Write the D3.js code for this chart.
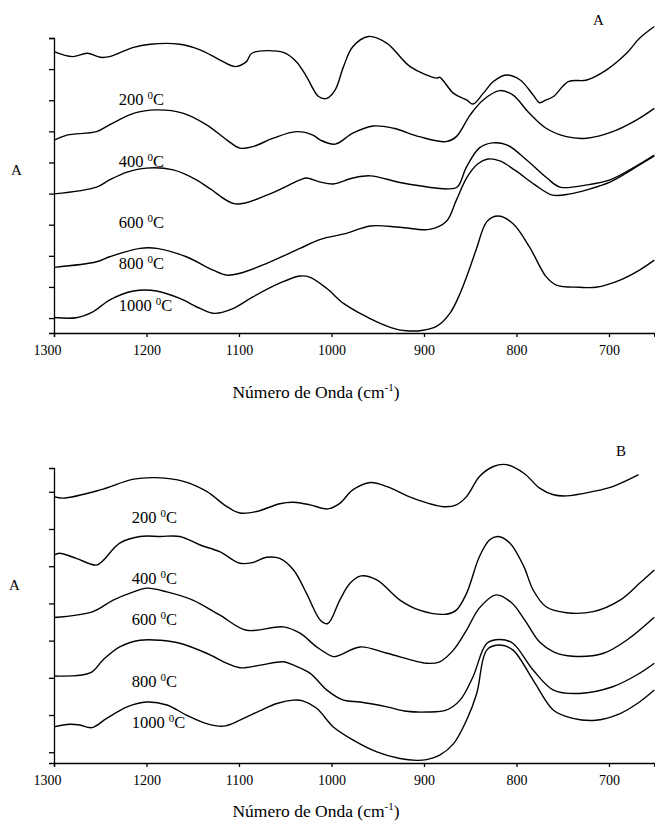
<!DOCTYPE html>
<html>
<head>
<meta charset="utf-8">
<script src="https://cdn.jsdelivr.net/npm/d3@7"></script>
<style>
  body { margin: 0; background: #fff; }
  svg text { font-family: "Liberation Serif", "Times New Roman", serif; fill: #000; }
  .axis path, .axis line { stroke: #000; stroke-width: 1.3; }
  .spec { fill: none; stroke: #000; stroke-width: 1.4; }
</style>
</head>
<body>
<svg id="chart"></svg>
<script>
// FTIR spectra, [wavenumber cm-1, absorbance (arbitrary, offset)]
// panel A
const a200 = [[1300,8.56],[1280,8.40],[1264,8.51],[1250,8.38],[1240,8.40],[1215,8.69],[1196,8.80],[1164,8.80],[1142,8.62],[1121,8.30],[1104,8.08],[1092,8.24],[1086,8.51],[1052,8.54],[1038,8.24],[1027,7.76],[1014,7.12],[1005,7.06],[996,7.33],[987,8.08],[977,8.72],[960,9.05],[940,8.83],[915,8.08],[886,7.71],[883,7.74],[868,7.22],[854,7.01],[847,6.88],[836,7.22],[825,7.60],[811,7.81],[796,7.65],[782,7.17],[775,6.92],[768,7.01],[760,7.12],[744,7.60],[724,7.65],[703,7.97],[681,8.51],[667,8.99],[651,9.37]];
const a400 = [[1300,5.72],[1286,5.88],[1254,5.99],[1240,6.21],[1214,6.58],[1189,6.69],[1160,6.58],[1135,6.21],[1113,5.72],[1099,5.46],[1085,5.51],[1063,5.78],[1038,5.99],[1020,5.88],[1012,5.72],[996,5.59],[977,5.94],[955,6.17],[933,6.10],[905,5.83],[876,5.67],[865,5.83],[850,6.53],[836,7.01],[818,7.31],[804,7.17],[786,6.58],[768,6.10],[746,5.83],[724,5.78],[696,5.99],[670,6.37],[651,6.74]];
const a600 = [[1300,3.99],[1254,4.21],[1240,4.44],[1221,4.69],[1200,4.82],[1171,4.76],[1146,4.44],[1131,4.15],[1104,3.67],[1070,3.95],[1034,4.44],[1027,4.50],[1012,4.37],[998,4.31],[977,4.50],[958,4.57],[923,4.34],[875,4.15],[864,4.21],[854,4.86],[840,5.47],[826,5.63],[810,5.56],[789,5.08],[767,4.50],[753,4.21],[724,4.28],[699,4.44],[667,4.95],[651,5.24]];
const a800 = [[1300,1.63],[1254,1.81],[1240,1.97],[1207,2.24],[1189,2.24],[1157,1.97],[1128,1.54],[1113,1.38],[1099,1.44],[1070,1.76],[1034,2.24],[1012,2.53],[984,2.72],[958,2.96],[926,2.92],[894,2.85],[876,3.10],[865,3.79],[854,4.50],[842,4.95],[831,5.11],[818,5.05],[802,4.76],[780,4.28],[761,3.95],[742,3.99],[724,4.12],[699,4.37],[667,4.92],[651,5.21]];
const a1000 = [[1300,0.02],[1276,0.01],[1258,0.20],[1240,0.58],[1214,0.87],[1189,0.87],[1164,0.63],[1142,0.31],[1126,0.15],[1106,0.31],[1085,0.68],[1056,1.12],[1034,1.35],[1023,1.31],[1005,0.95],[987,0.47],[969,0.15],[951,-0.12],[933,-0.33],[919,-0.41],[901,-0.39],[886,-0.26],[872,0.15],[861,0.79],[850,1.65],[843,2.25],[832,3.10],[820,3.28],[804,3.04],[786,2.29],[768,1.33],[757,1.06],[732,0.99],[714,0.99],[688,1.22],[667,1.54],[651,1.86]];

// panel B
const b200 = [[1300,6.87],[1290,6.83],[1250,7.05],[1214,7.34],[1189,7.38],[1160,7.28],[1135,7.01],[1113,6.60],[1099,6.43],[1081,6.47],[1056,6.68],[1041,6.72],[1023,6.65],[1004,6.54],[991,6.69],[977,7.05],[958,7.25],[940,7.14],[912,6.83],[879,6.60],[865,6.65],[854,6.87],[840,7.41],[825,7.68],[811,7.73],[792,7.50],[775,7.10],[760,6.92],[746,6.89],[717,7.01],[696,7.14],[668,7.46]];
const b400 = [[1300,5.30],[1294,5.35],[1276,5.21],[1254,5.03],[1247,5.15],[1229,5.62],[1207,5.80],[1185,5.80],[1164,5.80],[1142,5.57],[1121,5.39],[1099,5.08],[1085,5.10],[1070,5.24],[1056,5.21],[1041,4.90],[1027,4.27],[1012,3.55],[1004,3.46],[991,4.09],[980,4.54],[968,4.74],[951,4.63],[926,4.09],[905,3.82],[876,3.71],[865,3.82],[854,4.27],[840,5.26],[829,5.71],[820,5.80],[807,5.62],[792,4.99],[782,4.36],[768,3.91],[746,3.75],[717,3.78],[688,4.09],[667,4.54],[651,4.90]];
const b600 = [[1300,3.62],[1258,3.78],[1236,4.09],[1214,4.31],[1200,4.41],[1178,4.31],[1150,4.09],[1121,3.69],[1092,3.28],[1052,3.37],[1034,3.20],[1016,2.83],[998,2.57],[991,2.61],[969,2.83],[940,2.66],[897,2.39],[883,2.43],[868,2.75],[854,3.28],[840,3.88],[822,4.23],[805,4.01],[791,3.55],[775,2.96],[760,2.70],[739,2.58],[706,2.66],[681,3.01],[651,3.63]];
const b800 = [[1300,2.05],[1261,2.13],[1247,2.48],[1229,2.83],[1207,3.01],[1185,3.01],[1164,2.93],[1135,2.66],[1113,2.39],[1099,2.27],[1077,2.34],[1052,2.43],[1041,2.34],[1023,2.12],[1005,1.67],[987,1.40],[969,1.35],[940,1.22],[919,1.10],[897,1.08],[876,1.13],[861,1.40],[847,2.03],[832,2.93],[818,3.03],[804,2.93],[782,2.21],[760,1.67],[732,1.58],[696,1.76],[667,2.12],[651,2.39]];
const b1000 = [[1300,0.68],[1283,0.75],[1272,0.73],[1259,0.66],[1243,0.91],[1221,1.22],[1200,1.35],[1178,1.27],[1157,1.00],[1135,0.77],[1117,0.70],[1099,0.86],[1077,1.12],[1059,1.31],[1041,1.40],[1031,1.38],[1016,1.18],[998,0.68],[976,0.32],[951,0.01],[926,-0.17],[908,-0.22],[897,-0.20],[883,-0.08],[868,0.23],[854,0.86],[843,1.58],[832,2.75],[818,2.88],[804,2.75],[782,1.94],[760,1.13],[739,0.91],[714,0.86],[688,1.04],[667,1.35],[651,1.67]];

const xTicks = [1300, 1200, 1100, 1000, 900, 800, 700];
const tempLabels = ["200", "400", "600", "800", "1000"];
// where each temperature label sits [wavenumber, absorbance]
const labelPosA = [[1230,6.85],[1230,4.86],[1230,2.88],[1230,1.57],[1230,0.23]];
const labelPosB = [[1216,6.17],[1216,4.51],[1216,3.41],[1216,1.76],[1216,0.64]];

const W = 655, H = 825;
const svg = d3.select("#chart").attr("width", W).attr("height", H);

const x = d3.scaleLinear().domain([1300, 651]).range([54, 654.3]);
const line = function(y) {
  return d3.line()
    .x(function(d) { return x(d[0]); })
    .y(function(d) { return y(d[1]); })
    .curve(d3.curveCatmullRom.alpha(0.5));
};

function drawPanel(cfg) {
  const y = d3.scaleLinear().domain(cfg.yDomain).range([cfg.bottom, cfg.top]);
  const g = svg.append("g");

  const xa = g.append("g")
    .attr("class", "axis")
    .attr("transform", "translate(0," + cfg.bottom + ")")
    .call(d3.axisBottom(x).tickValues(xTicks).tickSize(4).tickSizeOuter(4).tickPadding(8).tickFormat(d3.format("d")));
  xa.selectAll("text")
    .style("font-size", "14px")
    .style("font-family", "'Liberation Serif', serif");
  // first label sits a bit left of its tick in the original
  xa.selectAll(".tick text").filter(d => d === 1300).attr("dx", -7);

  g.append("g")
    .attr("class", "axis")
    .attr("transform", "translate(54,0)")
    .call(d3.axisLeft(y).tickValues(cfg.yTicks).tickSize(5).tickSizeOuter(5).tickFormat(""));

  cfg.series.forEach(s => {
    g.append("path")
      .datum(s)
      .attr("class", "spec")
      .attr("d", line(y));
  });

  tempLabels.forEach((t, i) => {
    const p = cfg.labelPos[i];
    const txt = g.append("text")
      .attr("x", x(p[0]))
      .attr("y", y(p[1]))
      .style("font-size", "16.5px");
    txt.append("tspan").text(t + " ");
    txt.append("tspan").attr("dy", -6).style("font-size", "11px").text("0");
    txt.append("tspan").attr("dy", 6).text("C");
  });

  // y label
  g.append("text")
    .attr("x", cfg.yLabelX)
    .attr("y", cfg.yLabelY)
    .style("font-size", "15px")
    .text("A");

  // panel letter
  g.append("text")
    .attr("x", cfg.panelX)
    .attr("y", cfg.panelY)
    .style("font-size", "15px")
    .text(cfg.panel);

  // x label
  const xl = g.append("text")
    .attr("x", 316)
    .attr("y", cfg.xLabelY)
    .attr("text-anchor", "middle")
    .style("font-size", "17.5px");
  xl.append("tspan").text("Número de Onda (cm");
  xl.append("tspan").attr("dy", -7).style("font-size", "11px").text("-1");
  xl.append("tspan").attr("dy", 7).text(")");
}

drawPanel({
  panel: "A", panelX: 593, panelY: 25,
  top: 38, bottom: 333, yDomain: [-0.48, 9],
  yTicks: d3.range(0, 10),
  series: [a200, a400, a600, a800, a1000],
  labelPos: labelPosA,
  yLabelX: 11, yLabelY: 175, xLabelY: 398
});

drawPanel({
  panel: "B", panelX: 616, panelY: 456,
  top: 468, bottom: 763, yDomain: [-0.29, 7.64],
  yTicks: d3.range(0, 8),
  series: [b200, b400, b600, b800, b1000],
  labelPos: labelPosB,
  yLabelX: 9, yLabelY: 590, xLabelY: 817
});
</script>
</body>
</html>
